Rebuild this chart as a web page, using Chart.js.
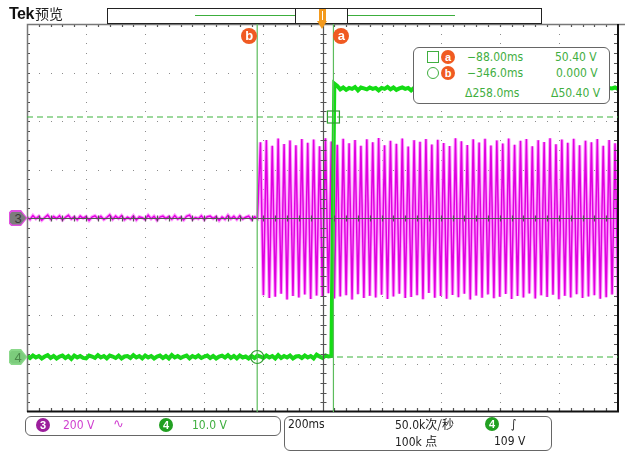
<!DOCTYPE html>
<html lang="zh">
<head>
<meta charset="UTF-8">
<title>Tek 预览</title>
<style>
  body { margin: 0; background: #fff; }
  #wrap { position: relative; width: 625px; height: 451px; overflow: hidden;
          font-family: 'Liberation Sans Narrow', 'DejaVu Sans Condensed', 'Liberation Sans', sans-serif; }
  #wrap canvas { position: absolute; left: 0; top: 0; }
  .t { position: absolute; white-space: nowrap; font-size: 12px; line-height: 14px; }
  .cjk { font-family: 'Noto Sans CJK SC', sans-serif; }
  .g { color: #3fae3f; }
  .badge { position: absolute; width: 14px; height: 14px; border-radius: 50%; color: #fff; text-align: center;
           font: bold 11px/14px 'Liberation Sans', sans-serif; }
  .orange { background: #f05a22; }
  .box { position: absolute; border: 1.5px solid #666; border-radius: 6px; background: #fff; box-sizing: border-box; }
  .tag, .tag div { position: absolute; clip-path: polygon(0 18%, 14% 0, 66% 0, 100% 50%, 66% 100%, 14% 100%, 0 82%); }
  .tag { width: 19px; height: 16px; }
  .tag div { left: 1.5px; top: 1.5px; width: 16px; height: 13px; text-align: center;
             font: 13px/13px 'Liberation Sans', sans-serif; }
</style>
</head>
<body>
<div id="wrap">
  <canvas id="scope" width="625" height="451"></canvas>

  <!-- header -->
  <div class="t" style="left:9px;top:5px;font:bold 16px/18px 'Liberation Sans Narrow','Liberation Sans',sans-serif;letter-spacing:-0.5px;color:#111">Tek</div>
  <div class="t cjk" style="left:35px;top:4px;font-size:14px;line-height:18px;color:#222">预览</div>
  <div style="position:absolute;left:107px;top:8px;width:435px;height:16px;border:1.5px solid #222;box-sizing:border-box"></div>
  <div style="position:absolute;left:195px;top:15px;width:100px;height:1px;background:#3cae3c"></div>
  <div style="position:absolute;left:348px;top:15px;width:107px;height:1px;background:#3cae3c"></div>
  <div style="position:absolute;left:295px;top:8px;width:53px;height:16px;border:1.5px solid #222;box-sizing:border-box;background:#fff"></div>
  <div style="position:absolute;left:319px;top:9px;width:7px;height:13px;background:#f39a1e"></div>
  <div style="position:absolute;left:322px;top:11px;width:1px;height:9px;background:#fff"></div>
  <div style="position:absolute;left:317px;top:21px;width:0;height:0;border-left:5.5px solid transparent;border-right:5.5px solid transparent;border-top:8px solid #f39a1e"></div>

  <!-- cursor labels -->
  <div id="lblA" class="badge orange" style="width:16px;height:16px;line-height:16px;font-size:13px">a</div>
  <div id="lblB" class="badge orange" style="width:16px;height:16px;line-height:16px;font-size:13px">b</div>

  <!-- channel tags -->
  <div id="tag3" class="tag" style="background:#e050e0"><div style="background:#7c7c7c;color:#3a3a3a">3</div></div>
  <div id="tag4" class="tag" style="background:#8ad88a"><div style="background:#7ccc7c;color:#4b8a4b">4</div></div>

  <!-- cursor readout -->
  <div class="box" style="left:413px;top:47px;width:197px;height:57px"></div>
  <div style="position:absolute;left:427px;top:51px;width:10px;height:10px;border:1.3px solid #3fae3f"></div>
  <div class="badge orange" style="left:441px;top:50px">a</div>
  <div class="t g" style="left:467px;top:50px">−88.00ms</div>
  <div class="t g" style="left:555px;top:50px">50.40 V</div>
  <div style="position:absolute;left:427px;top:67px;width:10px;height:10px;border:1.3px solid #3fae3f;border-radius:50%"></div>
  <div class="badge orange" style="left:441px;top:66px">b</div>
  <div class="t g" style="left:467px;top:66px">−346.0ms</div>
  <div class="t g" style="left:556px;top:66px">0.000 V</div>
  <div class="t g" style="left:465px;top:86px">Δ258.0ms</div>
  <div class="t g" style="left:551px;top:86px">Δ50.40 V</div>

  <!-- bottom status -->
  <div class="box" style="left:25px;top:416px;width:256px;height:20px"></div>
  <div class="badge" style="left:36px;top:418px;background:#9c1e9c">3</div>
  <div class="t" style="left:63px;top:418px;color:#d040d0">200 V</div>
  <div class="t" style="left:113px;top:417px;color:#d040d0;font-family:'DejaVu Sans',sans-serif;font-size:13px">∿</div>
  <div class="badge" style="left:159px;top:418px;background:#22a022">4</div>
  <div class="t g" style="left:192px;top:418px">10.0 V</div>

  <div class="box" style="left:284px;top:416px;width:268px;height:35px"></div>
  <div class="t" style="left:288px;top:417px;color:#222">200ms</div>
  <div class="t" style="left:395px;top:417px;color:#222">50.0k<span class="cjk">次/秒</span></div>
  <div class="badge" style="left:485px;top:417px;background:#22a022">4</div>
  <div class="t" style="left:511px;top:417px;color:#222">∫</div>
  <div class="t" style="left:395px;top:434px;color:#222">100k <span class="cjk">点</span></div>
  <div class="t" style="left:494px;top:434px;color:#222">109 V</div>
</div>

<script src="https://cdn.jsdelivr.net/npm/chart.js"></script>
<script>
// time base: record sampled every 10 ms, screen spans 10 div x 200 ms
const sampleStartMs = -1125;
const sampleStepMs = 10;
const xMin = -1125, xMax = 875;
const timeDivMs = 200;
const ch3VoltsPerDiv = 200;

// channel 3 (magenta, 200 V/div): idle before switch-on, then mains sine peaks/troughs
const ch3IdleVolts = [4,-6,10,-3,7,-9,2,12,-5,6,-2,9,-8,3,11,-4,5,-7,8,-1,
  6,-10,4,9,-3,7,-6,2,13,-5,8,-2,10,-7,3,-4,9,-8,5,1,
  -6,11,-3,7,-9,4,8,-2,6,-5,10,-4,3,-8,7,12,-6,2,-3,9,
  -7,5,8,-2,6,-10,4,-5,11,-3,7,-6,9,-4,3,8,-7,5,-2];
const ch3SineVolts = [312,-318,322,-330,298,-325,328,-312,305,-336,320,-322,300,-328,326,-315,310,-334,324,-320,
  296,-326,329,-310,315,-332,302,-324,327,-318,308,-336,322,-314,298,-330,325,-321,312,-328,
  330,-316,300,-334,318,-324,306,-312,328,-330,295,-326,321,-318,314,-335,326,-309,303,-329,
  323,-322,309,-333,297,-317,329,-327,316,-312,301,-336,325,-320,311,-329,327,-315,299,-331,
  320,-325,307,-313,328,-334,302,-322,318,-328,326,-311,296,-332,321,-319,313,-326,329,-316,
  304,-335,324,-321,310,-328,327,-314,300,-330,319,-324,312,-318,326,-333,298,-327,322,-315,308,-329];

// channel 4 (green, 10 V/div): 0 V then steps to ~56 V
const ch4LowVolts = [0.2,-0.2,0.3,-0.1,0.2,-0.3,0.1,0.4,-0.2,0.2,-0.3,0.1,0.3,-0.2,0.2,-0.4,0.3,-0.1,0.2,-0.2,
  -0.3,0.3,0.1,-0.2,0.4,-0.1,0.2,-0.3,0.3,0.1,-0.2,0.3,-0.3,0.1,0.2,-0.2,0.4,-0.1,0.2,-0.3,
  0.3,-0.1,0.2,-0.3,0.1,0.3,-0.2,0.2,-0.3,0.4,-0.1,0.2,-0.2,0.1,0.3,-0.3,0.2,-0.1,0.3,-0.2,
  0.1,0.3,-0.2,0.2,-0.3,0.1,0.3,-0.1,0.4,-0.2,0.2,-0.3,0.3,-0.1,0.1,-0.3,0.2,-0.2,0.3,0.1,
  -0.2,0.3,-0.1,0.2,-0.3,0.4,-0.2,0.2,-0.1,0.3,-0.3,0.1,0.2,-0.2,0.3,-0.1,0.2,-0.3,0.5,0.1,
  -0.2,0.3,0.1,0.2];
const ch4HighVolts = [57.4,56.9,56.2,56.6,56.1,56.5,56.3,56.7,56.0,56.6,56.4,56.2,56.6,56.3,56.5,56.0,56.5,56.3,56.7,56.2,
  56.6,56.1,56.4,56.6,56.3,56.5,56.0,56.5,56.4,56.7,56.2,56.6,56.3,56.1,56.5,56.3,56.6,56.4,56.0,56.5,
  56.3,56.6,56.2,56.5,56.4,56.1,56.6,56.3,56.5,56.0,56.6,56.3,56.5,56.2,56.4,56.7,56.3,56.6,56.1,56.5,
  56.4,56.6,56.2,56.5,56.0,56.5,56.3,56.7,56.3,56.6,56.1,56.4,56.6,56.3,56.5,56.2,56.5,56.4,56.6,56.1,
  56.5,56.3,56.6,56.2,56.5,56.3,56.6,56.1,56.4,56.5,56.3,56.6,56.2,56.5,56.4,56.6,56.3];

// cursors a and b (on channel 4)
const cursorTimesMs = [-88, -346];
const cursorVolts = [50.40, 0.000];

const toPoints = vals => vals.map((v, i) => ({ x: sampleStartMs + i * sampleStepMs, y: v }));
const ch3 = toPoints(ch3IdleVolts.concat(ch3SineVolts));
const ch4 = toPoints(ch4LowVolts.concat(ch4HighVolts));

const graticule = {
  id: 'graticule',
  beforeDatasetsDraw(chart) {
    const ctx = chart.ctx, x = chart.scales.x, y = chart.scales.y3;
    ctx.save();
    ctx.fillStyle = '#8c8c8c';
    for (let i = 1; i < 10; i++) {
      if (i === 5) continue;
      const px = Math.round(x.getPixelForValue(xMin + i * timeDivMs));
      for (let j = 1; j < 40; j++) ctx.fillRect(px, Math.round(y.getPixelForValue(-800 + j * 40)), 1, 1);
    }
    for (let j = 1; j < 8; j++) {
      if (j === 4) continue;
      const py = Math.round(y.getPixelForValue(-800 + j * ch3VoltsPerDiv));
      for (let i = 1; i < 50; i++) ctx.fillRect(Math.round(x.getPixelForValue(xMin + i * 40)), py, 1, 1);
    }
    ctx.restore();
  },
  afterDatasetsDraw(chart) {
    const ctx = chart.ctx, a = chart.chartArea, x = chart.scales.x, y = chart.scales.y3, y4 = chart.scales.y4;
    ctx.save();
    // centre lines with minor ticks
    const cx = Math.round(x.getPixelForValue(xMin + 5 * timeDivMs)) + 0.5;
    const cy = Math.round(y.getPixelForValue(0)) + 0.5;
    ctx.strokeStyle = '#555';
    ctx.lineWidth = 1.2;
    ctx.beginPath();
    ctx.moveTo(cx, a.top); ctx.lineTo(cx, a.bottom);
    ctx.moveTo(a.left, cy); ctx.lineTo(a.right, cy);
    for (let i = 1; i < 50; i++) {
      const px = Math.round(x.getPixelForValue(xMin + i * 40)) + 0.5;
      ctx.moveTo(px, cy - 3); ctx.lineTo(px, cy + 3);
      ctx.moveTo(px, a.top); ctx.lineTo(px, a.top + 3);
      ctx.moveTo(px, a.bottom); ctx.lineTo(px, a.bottom - 4);
    }
    for (let j = 1; j < 40; j++) {
      const py = Math.round(y.getPixelForValue(-800 + j * 40)) + 0.5;
      ctx.moveTo(cx - 3, py); ctx.lineTo(cx + 3, py);
      ctx.moveTo(a.left, py); ctx.lineTo(a.left + 3, py);
      ctx.moveTo(a.right, py); ctx.lineTo(a.right - 4, py);
    }
    ctx.stroke();
    // frame
    ctx.strokeStyle = '#777';
    ctx.lineWidth = 1.5;
    ctx.beginPath();
    ctx.moveTo(a.left + 0.5, a.bottom); ctx.lineTo(a.left + 0.5, a.top + 0.5); ctx.lineTo(625, a.top + 0.5);
    ctx.stroke();
    ctx.strokeStyle = '#111';
    ctx.lineWidth = 2;
    ctx.beginPath();
    ctx.moveTo(a.left, a.bottom - 0.5); ctx.lineTo(a.right, a.bottom - 0.5); ctx.lineTo(a.right, a.top);
    ctx.stroke();

    // cursors
    const xa = x.getPixelForValue(cursorTimesMs[0]), xb = x.getPixelForValue(cursorTimesMs[1]);
    const ya = y4.getPixelForValue(cursorVolts[0]), yb = y4.getPixelForValue(cursorVolts[1]);
    ctx.strokeStyle = '#5cbc5c';
    ctx.lineWidth = 1.2;
    ctx.beginPath();
    ctx.moveTo(xa, a.top); ctx.lineTo(xa, a.bottom);
    ctx.moveTo(xb, a.top); ctx.lineTo(xb, a.bottom);
    ctx.stroke();
    ctx.setLineDash([6, 4]);
    ctx.strokeStyle = '#3cb43c';
    ctx.beginPath();
    ctx.moveTo(a.left, ya); ctx.lineTo(a.right, ya);
    ctx.moveTo(a.left, yb); ctx.lineTo(a.right, yb);
    ctx.stroke();
    ctx.setLineDash([]);
    ctx.strokeStyle = '#2e9e2e';
    ctx.strokeRect(xa - 6, ya - 6, 12, 12);
    ctx.beginPath();
    ctx.arc(xb, yb, 6.5, 0, Math.PI * 2);
    ctx.stroke();
    ctx.restore();
  }
};

const chart = new Chart(document.getElementById('scope'), {
  type: 'line',
  data: {
    datasets: [
      { data: ch4, yAxisID: 'y4', borderColor: '#14dc14', borderWidth: 4, pointRadius: 0, order: 0 },
      { data: ch3, yAxisID: 'y3', borderColor: '#e000e0', borderWidth: 1.5, pointRadius: 0, order: 1 },
      { data: ch3, yAxisID: 'y3', borderColor: '#ffa0ff', borderWidth: 3.5, pointRadius: 0, order: 2 }
    ]
  },
  options: {
    responsive: false,
    animation: false,
    events: [],
    layout: { padding: { left: 27, top: 24, right: 7, bottom: 39 } },
    scales: {
      x: { type: 'linear', min: xMin, max: xMax, display: false },
      y3: { type: 'linear', min: -4 * ch3VoltsPerDiv, max: 4 * ch3VoltsPerDiv, display: false },
      y4: { type: 'linear', min: -11.55, max: 69.93, display: false }
    },
    plugins: { legend: { display: false }, tooltip: { enabled: false } }
  },
  plugins: [graticule]
});

// place cursor labels and channel ground tags from the scales
const xs = chart.scales.x;
const put = (id, cx, cy) => {
  const el = document.getElementById(id);
  el.style.left = (cx - el.offsetWidth / 2) + 'px';
  el.style.top = (cy - el.offsetHeight / 2) + 'px';
};
put('lblA', xs.getPixelForValue(cursorTimesMs[0]) + 8, 36);
put('lblB', xs.getPixelForValue(cursorTimesMs[1]) - 8, 36);
put('tag3', 18, chart.scales.y3.getPixelForValue(0));
put('tag4', 18, chart.scales.y4.getPixelForValue(0));
</script>
</body>
</html>
